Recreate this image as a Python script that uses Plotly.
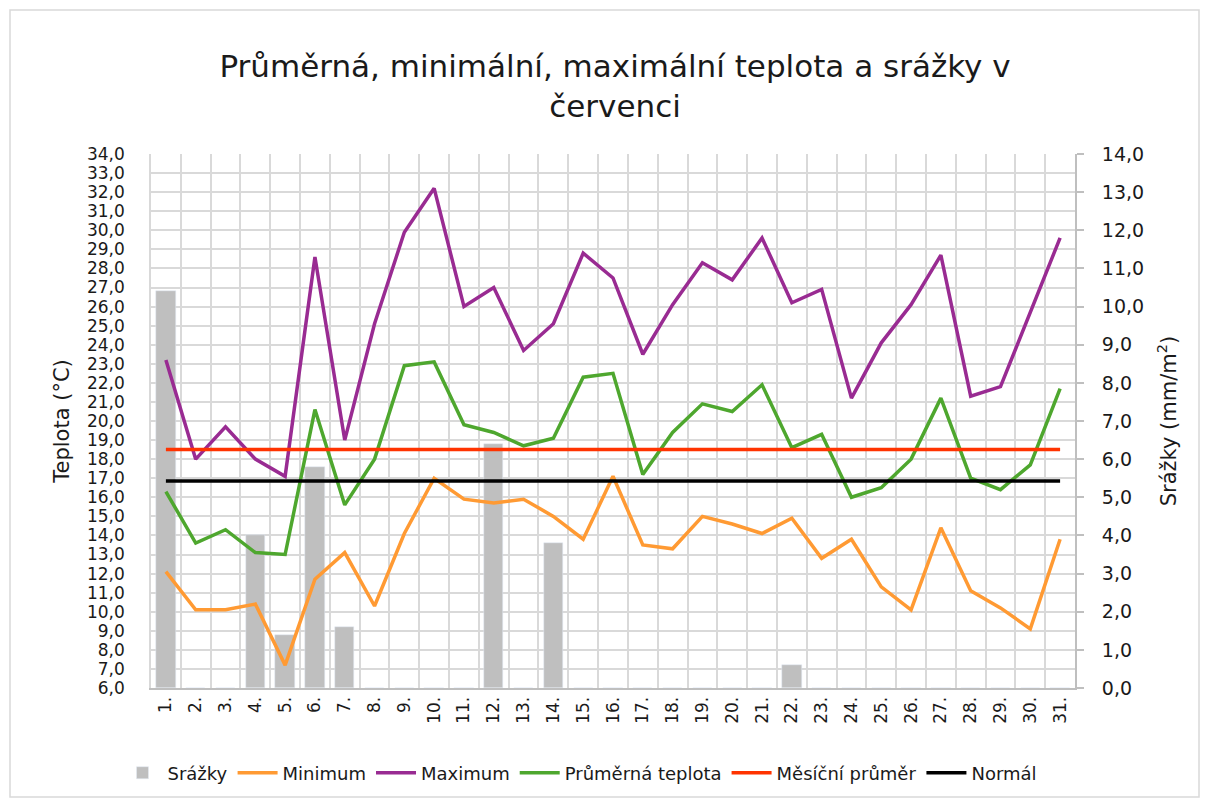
import plotly.graph_objects as go

days = list(range(1, 32))
day_labels = [f"{d}." for d in days]

srazky = [10.4, 0, 0, 4.0, 1.4, 5.8, 1.6, 0, 0, 0, 0, 6.4, 0, 3.8, 0, 0, 0, 0, 0, 0, 0, 0.6, 0, 0, 0, 0, 0, 0, 0, 0, 0]
minimum = [12.1, 10.1, 10.1, 10.4, 7.2, 11.7, 13.1, 10.3, 14.1, 17.0, 15.9, 15.7, 15.9, 15.0, 13.8, 17.1, 13.5, 13.3, 15.0, 14.6, 14.1, 14.9, 12.8, 13.8, 11.3, 10.1, 14.4, 11.1, 10.2, 9.1, 13.8]
maximum = [23.2, 18.0, 19.7, 18.0, 17.1, 28.6, 19.0, 25.1, 29.9, 32.2, 26.0, 27.0, 23.7, 25.1, 28.8, 27.5, 23.5, 26.1, 28.3, 27.4, 29.6, 26.2, 26.9, 21.2, 24.1, 26.1, 28.7, 21.3, 21.8, 25.7, 29.6]
prumer = [16.3, 13.6, 14.3, 13.1, 13.0, 20.6, 15.6, 18.0, 22.9, 23.1, 19.8, 19.4, 18.7, 19.1, 22.3, 22.5, 17.2, 19.4, 20.9, 20.5, 21.9, 18.6, 19.3, 16.0, 16.5, 18.0, 21.2, 17.0, 16.4, 17.7, 21.7]
mesicni_prumer = [18.5] * 31
normal = [16.85] * 31

title_text = "Průměrná, minimální, maximální teplota a srážky v<br>červenci"

FONT = "DejaVu Sans"
TXT = "#1a1a1a"
GRID = "#d9d9d9"
LW = 3.5

fig = go.Figure()
# bars on the primary (right-side) axis so that lines on the overlaying axis draw above them
fig.add_trace(go.Bar(x=days, y=srazky, name="Srážky", marker_color="#bfbfbf",
                     width=0.65, yaxis="y"))
fig.add_trace(go.Scatter(x=days, y=minimum, name="Minimum", mode="lines", yaxis="y2",
                         line=dict(color="#ff9a33", width=LW)))
fig.add_trace(go.Scatter(x=days, y=maximum, name="Maximum", mode="lines", yaxis="y2",
                         line=dict(color="#992b92", width=LW)))
fig.add_trace(go.Scatter(x=days, y=prumer, name="Průměrná teplota", mode="lines", yaxis="y2",
                         line=dict(color="#4ea72e", width=LW)))
fig.add_trace(go.Scatter(x=days, y=mesicni_prumer, name="Měsíční průměr", mode="lines", yaxis="y2",
                         line=dict(color="#ff3300", width=LW)))
fig.add_trace(go.Scatter(x=days, y=normal, name="Normál", mode="lines", yaxis="y2",
                         line=dict(color="#000000", width=LW)))

L, R, T, B = 151, 133, 154, 118
W = 1208 - L - R
H = 806 - T - B

fig.update_layout(
    width=1208, height=806,
    margin=dict(l=L, r=R, t=T, b=B, autoexpand=False),
    paper_bgcolor="white", plot_bgcolor="white",
    separators=", ",
    font=dict(family=FONT, color=TXT, size=18),
    title=dict(text=title_text, x=615 / 1208, xanchor="center", y=1 - 77 / 806, yanchor="middle",
               yref="container", font=dict(size=31, color=TXT, family=FONT)),
    showlegend=True,
    legend=dict(orientation="h", x=(580 - L) / W, xanchor="center", y=(688 - 773) / H,
                yanchor="middle", font=dict(size=18, color=TXT), traceorder="normal",
                itemwidth=40),
    bargap=0,
    xaxis=dict(
        range=[0.5, 31.5], tickmode="array", tickvals=days, ticktext=day_labels,
        tickangle=-90, showgrid=False, zeroline=False, ticks="",
        showline=True, linecolor="#bfbfbf", linewidth=2,
        tickfont=dict(size=17, color=TXT),
        minor=dict(tickvals=[i + 0.5 for i in range(0, 32)], showgrid=True,
                   gridcolor=GRID, gridwidth=1.5, ticks=""),
    ),
    yaxis=dict(
        range=[0, 14], dtick=1, tick0=0, tickformat=".1f", side="right",
        showgrid=True, gridcolor=GRID, gridwidth=1.5,
        minor=dict(dtick=0.5, tick0=0, showgrid=True, gridcolor=GRID, gridwidth=1.5, ticks=""),
        zeroline=False, showline=True, linecolor="#bfbfbf", linewidth=2,
        ticks="outside", ticklen=7, tickcolor="#bfbfbf", tickwidth=1.5,
        ticklabelstandoff=14,
        title=dict(text="Srážky (mm/m<sup>2</sup>)", font=dict(size=21, color=TXT), standoff=18),
        tickfont=dict(size=19, color=TXT),
    ),
    yaxis2=dict(
        range=[6, 34], dtick=1, tick0=6, tickformat=".1f", overlaying="y", side="left",
        showgrid=False, zeroline=False, showline=True, linecolor=GRID, linewidth=1.5,
        ticks="", ticklabelstandoff=21,
        title=dict(text="Teplota (°C)", font=dict(size=21, color=TXT), standoff=12),
        tickfont=dict(size=17, color=TXT),
    ),
)

# outer chart border
fig.add_shape(type="rect", xref="paper", yref="paper", layer="below",
              x0=(10 - L) / W, x1=(1199 - L) / W,
              y0=(688 - 797) / H, y1=(688 - 10) / H,
              line=dict(color="#d9d9d9", width=1.5))

fig.write_html("out.html", config={"displayModeBar": False},
               post_script="document.body.style.margin='0';")
